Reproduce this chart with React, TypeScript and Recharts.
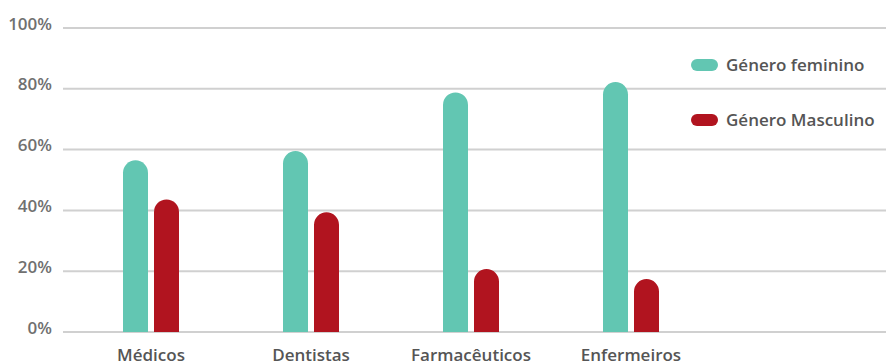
import { BarChart, Bar, XAxis, YAxis, CartesianGrid } from "recharts";

const categories = ["Médicos", "Dentistas", "Farmacêuticos", "Enfermeiros"];
const feminino = [56.5, 59.5, 78.8, 82.2];
const masculino = [43.6, 39.4, 20.7, 17.4];
const yTicks = [0, 20, 40, 60, 80, 100];
const seriesNames = ["Género feminino", "Género Masculino"];

const TEAL = "#62c6b2";
const RED = "#b1141f";
const FONT = "'Open Sans', sans-serif";

const data = categories.map((name, i) => ({
  name,
  fem: feminino[i],
  masc: masculino[i],
}));

function YTick({ x, y, payload }: any) {
  return (
    <text x={x} y={y + 1.5} textAnchor="end" fill="#707070" fontFamily={FONT} fontWeight={600} fontSize={17}>
      {payload.value}%
    </text>
  );
}

function XTick({ x, y, payload }: any) {
  return (
    <text x={x} y={y + 28.5} textAnchor="middle" fill="#555" fontFamily={FONT} fontWeight={600} fontSize={17}>
      {payload.value}
    </text>
  );
}

// legend sits on top of the plot area, so it's drawn outside recharts' layout
function LegendBox() {
  const colors = [TEAL, RED];
  return (
    <div style={{ position: "absolute", left: 691, top: 37 }}>
      {seriesNames.map((n, i) => (
        <div key={n} style={{ display: "flex", alignItems: "center", height: 55 }}>
          <span style={{ width: 27, height: 12, borderRadius: 6, background: colors[i], marginRight: 8 }} />
          <span style={{ fontFamily: FONT, fontWeight: 600, fontSize: 17, color: "#555", whiteSpace: "nowrap" }}>{n}</span>
        </div>
      ))}
    </div>
  );
}

export default function App() {
  return (
    <div style={{ position: "fixed", left: 0, top: 0, width: 886, height: 364, background: "#fff" }}>
      <BarChart width={886} height={364} data={data} margin={{ top: 28, right: 0, bottom: 0, left: 0 }} barGap={6} barSize={25}>
        <CartesianGrid vertical={false} stroke="#d0d0d0" strokeWidth={2} />
        <XAxis
          dataKey="name"
          height={32}
          axisLine={false}
          tickLine={false}
          tickSize={0}
          tickMargin={0}
          tick={<XTick />}
          padding={{ left: 8, right: 175 }}
          interval={0}
        />
        <YAxis
          width={63}
          domain={[0, 100]}
          ticks={yTicks}
          axisLine={false}
          tickLine={false}
          tickSize={0}
          tickMargin={11}
          tick={<YTick />}
        />
        <Bar dataKey="fem" name={seriesNames[0]} fill={TEAL} radius={[12.5, 12.5, 0, 0]} isAnimationActive={false} />
        <Bar dataKey="masc" name={seriesNames[1]} fill={RED} radius={[12.5, 12.5, 0, 0]} isAnimationActive={false} />
      </BarChart>
      <LegendBox />
    </div>
  );
}
